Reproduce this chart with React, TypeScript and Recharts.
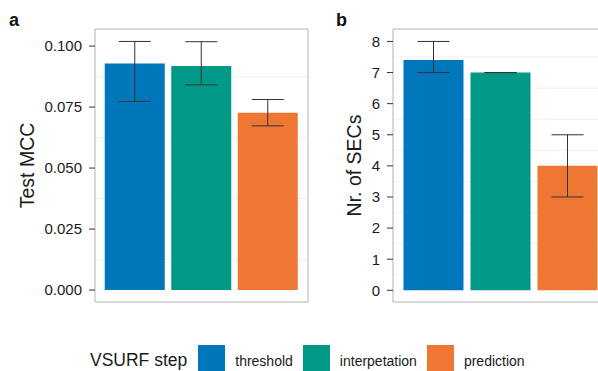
import React from 'react';
import { BarChart, Bar, XAxis, YAxis, CartesianGrid, ErrorBar, Cell, Label } from 'recharts';

const steps = ['threshold', 'interpetation', 'prediction'];
const barColors = ['#0077BB', '#009988', '#EE7733'];

const mccMean = [0.0929, 0.0918, 0.0727];
const mccLower = [0.0773, 0.0841, 0.0673];
const mccUpper = [0.1019, 0.1018, 0.0781];
const mccTicks = [0, 0.025, 0.05, 0.075, 0.1];
const mccMinor = [0.0125, 0.0375, 0.0625, 0.0875];
const mccTickLabels = ['0.000', '0.025', '0.050', '0.075', '0.100'];

const secMean = [7.4, 7, 4];
const secLower = [7, 7, 3];
const secUpper = [8, 7, 5];
const secTicks = [0, 1, 2, 3, 4, 5, 6, 7, 8];
const secMinor = [0.5, 1.5, 2.5, 3.5, 4.5, 5.5, 6.5, 7.5];

const legendTitle = 'VSURF step';

const mccData = steps.map((s, i) => ({
  step: s,
  value: mccMean[i],
  err: [mccMean[i] - mccLower[i], mccUpper[i] - mccMean[i]],
}));
const secData = steps.map((s, i) => ({
  step: s,
  value: secMean[i],
  err: [secMean[i] - secLower[i], secUpper[i] - secMean[i]],
}));

const FONT = '"Liberation Sans", Arial, Helvetica, sans-serif';
const BORDER = '#b3b3b3';

const borderV = (p: any) => [p.offset.left, p.offset.left + p.offset.width];
const borderH = (p: any) => [p.offset.top, p.offset.top + p.offset.height];

function Panel(props: {
  data: any[];
  domain: [number, number];
  ticks: number[];
  minor: number[];
  tickFmt: (v: number) => string;
  yWidth: number;
  title: string;
  titleOffset: number;
  padding: number;
  right: number;
}) {
  return (
    <BarChart
      width={310}
      height={310}
      data={props.data}
      margin={{ top: 29, right: props.right, bottom: 8, left: 0 }}
    >
      <CartesianGrid vertical={false} horizontalValues={props.minor} stroke="#f0f0f0" strokeDasharray="" />
      <XAxis dataKey="step" hide padding={{ left: props.padding, right: props.padding }} />
      <YAxis
        type="number"
        domain={props.domain}
        ticks={props.ticks}
        tickFormatter={props.tickFmt}
        width={props.yWidth}
        axisLine={false}
        tickSize={6}
        tickMargin={7}
        tickLine={{ stroke: '#333333' }}
        tick={{ fill: '#1a1a1a', fontSize: 15, fontFamily: FONT }}
        allowDataOverflow
      >
        <Label
          value={props.title}
          angle={-90}
          position="insideLeft"
          offset={props.titleOffset}
          style={{ textAnchor: 'middle', fontSize: 19.5, fontFamily: FONT, fill: '#1a1a1a' }}
        />
      </YAxis>
      <Bar dataKey="value" barSize={60} isAnimationActive={false}>
        {props.data.map((d, i) => (
          <Cell key={d.step} fill={barColors[i]} />
        ))}
        <ErrorBar dataKey="err" width={16} stroke="#333333" strokeWidth={1} isAnimationActive={false} />
      </Bar>
      <CartesianGrid
        verticalCoordinatesGenerator={borderV}
        horizontalCoordinatesGenerator={borderH}
        stroke={BORDER}
        strokeWidth={1}
        fill="none"
      />
    </BarChart>
  );
}

export default function App() {
  return (
    <div
      style={{
        position: 'absolute',
        left: 0,
        top: 0,
        width: 598,
        height: 371,
        overflow: 'hidden',
        background: '#ffffff',
        fontFamily: FONT,
      }}
    >
      <div style={{ position: 'absolute', left: 0, top: 0 }}>
        <Panel
          data={mccData}
          domain={[-0.0049, 0.107]}
          ticks={mccTicks}
          minor={mccMinor}
          tickFmt={(v) => mccTickLabels[mccTicks.indexOf(v)] ?? v.toFixed(3)}
          yWidth={95}
          title="Test MCC"
          titleOffset={27}
          padding={6.75}
          right={2}
        />
      </div>
      <div style={{ position: 'absolute', left: 300, top: 0 }}>
        <Panel
          data={secData}
          domain={[-0.376, 8.4]}
          ticks={secTicks}
          minor={secMinor}
          tickFmt={(v) => String(v)}
          yWidth={93}
          title="Nr. of SECs"
          titleOffset={54}
          padding={6.5}
          right={3}
        />
      </div>
      <div style={{ position: 'absolute', left: 9, top: 11, fontSize: 18, fontWeight: 'bold', lineHeight: 1, color: '#111' }}>a</div>
      <div style={{ position: 'absolute', left: 336, top: 11, fontSize: 18, fontWeight: 'bold', lineHeight: 1, color: '#111' }}>b</div>
      <div
        style={{
          position: 'absolute',
          left: 90,
          top: 345,
          display: 'flex',
          alignItems: 'flex-start',
          whiteSpace: 'nowrap',
          color: '#1a1a1a',
        }}
      >
        <span style={{ fontSize: 17.5, lineHeight: '27px', position: 'relative', top: 1.5, marginRight: 11 }}>{legendTitle}</span>
        {steps.map((s, i) => (
          <React.Fragment key={s}>
            <span style={{ display: 'inline-block', width: 27, height: 27, background: barColors[i], marginRight: 10 }} />
            <span style={{ fontSize: 14, lineHeight: '27px', position: 'relative', top: 2.5, marginRight: 10 }}>{s}</span>
          </React.Fragment>
        ))}
      </div>
    </div>
  );
}
